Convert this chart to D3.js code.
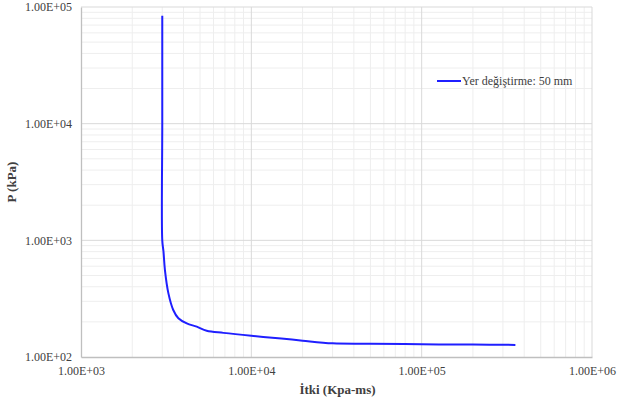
<!DOCTYPE html>
<html>
<head>
<meta charset="utf-8">
<script src="https://cdn.jsdelivr.net/npm/d3@7"></script>
<style>
  html, body { margin: 0; padding: 0; background: #fff; }
  svg { display: block; }
  svg text { font-family: "Liberation Serif", "Times New Roman", Times, "DejaVu Serif", serif !important; fill: #404040; }
</style>
</head>
<body>
<svg id="chart" width="617" height="406"></svg>
<script>
// Impulse (kPa-ms) vs. pressure (kPa) curve
const impulse = [3000, 3000, 3000, 3050, 3110, 3260, 3480, 3730, 4180, 4780, 5470, 6860, 10000, 15000, 20000, 30000, 50000, 100000, 200000, 355000];
const pressure = [84000, 10000, 1000, 800, 556, 351, 253, 215, 194, 182, 168, 161, 152, 144, 138, 131, 130, 128.5, 128, 127];
const xTicks = [1e3, 1e4, 1e5, 1e6];
const yTicks = [1e2, 1e3, 1e4, 1e5];
const seriesName = "Yer değiştirme: 50 mm";

const svg = d3.select("#chart");
const m = { left: 81, right: 592, top: 7, bottom: 357 };

const x = d3.scaleLog().domain([1e3, 1e6]).range([m.left, m.right]);
const y = d3.scaleLog().domain([1e2, 1e5]).range([m.bottom, m.top]);

// minor grid values (2..9 within each decade)
const minor = (lo, hi) => {
  const out = [];
  for (let d = lo; d < hi; d *= 10) for (let k = 2; k <= 9; k++) out.push(d * k);
  return out;
};

const grid = svg.append("g");
grid.selectAll(".mx").data(minor(1e3, 1e6)).join("line")
  .attr("x1", d => x(d)).attr("x2", d => x(d))
  .attr("y1", m.top).attr("y2", m.bottom)
  .attr("stroke", "#eeeeee").attr("stroke-width", 1);
grid.selectAll(".my").data(minor(1e2, 1e5)).join("line")
  .attr("y1", d => y(d)).attr("y2", d => y(d))
  .attr("x1", m.left).attr("x2", m.right)
  .attr("stroke", "#eeeeee").attr("stroke-width", 1);
grid.selectAll(".Mx").data(xTicks.slice(1)).join("line")
  .attr("x1", d => x(d)).attr("x2", d => x(d))
  .attr("y1", m.top).attr("y2", m.bottom)
  .attr("stroke", "#d9d9d9").attr("stroke-width", 1);
grid.selectAll(".My").data(yTicks.slice(1)).join("line")
  .attr("y1", d => y(d)).attr("y2", d => y(d))
  .attr("x1", m.left).attr("x2", m.right)
  .attr("stroke", "#d9d9d9").attr("stroke-width", 1);

// axes
const fmt = d => d.toExponential(2).toUpperCase().replace(/E\+(\d)$/, "E+0$1");
const xAxis = d3.axisBottom(x).tickValues(xTicks).tickFormat(fmt).tickSize(0).tickPadding(9);
const yAxis = d3.axisLeft(y).tickValues(yTicks).tickFormat(fmt).tickSize(0).tickPadding(9);

const gx = svg.append("g").attr("transform", `translate(0,${m.bottom})`).call(xAxis);
const gy = svg.append("g").attr("transform", `translate(${m.left},0)`).call(yAxis);
[gx, gy].forEach(g => {
  g.attr("font-family", null).attr("font-size", null);
  g.select(".domain").attr("stroke", "#bfbfbf").attr("stroke-width", 1.3);
  g.selectAll("text").style("font-size", "12px").attr("fill", "#404040");
});

// curve
svg.append("path")
  .datum(impulse)
  .attr("d", d3.line()
    .x((d, i) => x(impulse[i]))
    .y((d, i) => y(pressure[i]))
    .curve(d3.curveCatmullRom.alpha(0.5)))
  .attr("fill", "none").attr("stroke", "#1f1fff").attr("stroke-width", 2);

// axis titles
svg.append("text").attr("x", (m.left + m.right) / 2 + 1).attr("y", 394)
  .attr("text-anchor", "middle").style("font-size", "13px").style("font-weight", "bold")
  .text("İtki (Kpa-ms)");
svg.append("text").attr("transform", `translate(16,${(m.top + m.bottom) / 2}) rotate(-90)`)
  .attr("text-anchor", "middle").style("font-size", "13px").style("font-weight", "bold")
  .text("P (kPa)");

// legend
const lg = svg.append("g").attr("transform", "translate(437,81)");
lg.append("line").attr("x1", 0).attr("x2", 24).attr("y1", 0).attr("y2", 0)
  .attr("stroke", "#1f1fff").attr("stroke-width", 2);
lg.append("text").attr("x", 25).attr("y", 4).style("font-size", "12px").text(seriesName);
</script>
</body>
</html>
